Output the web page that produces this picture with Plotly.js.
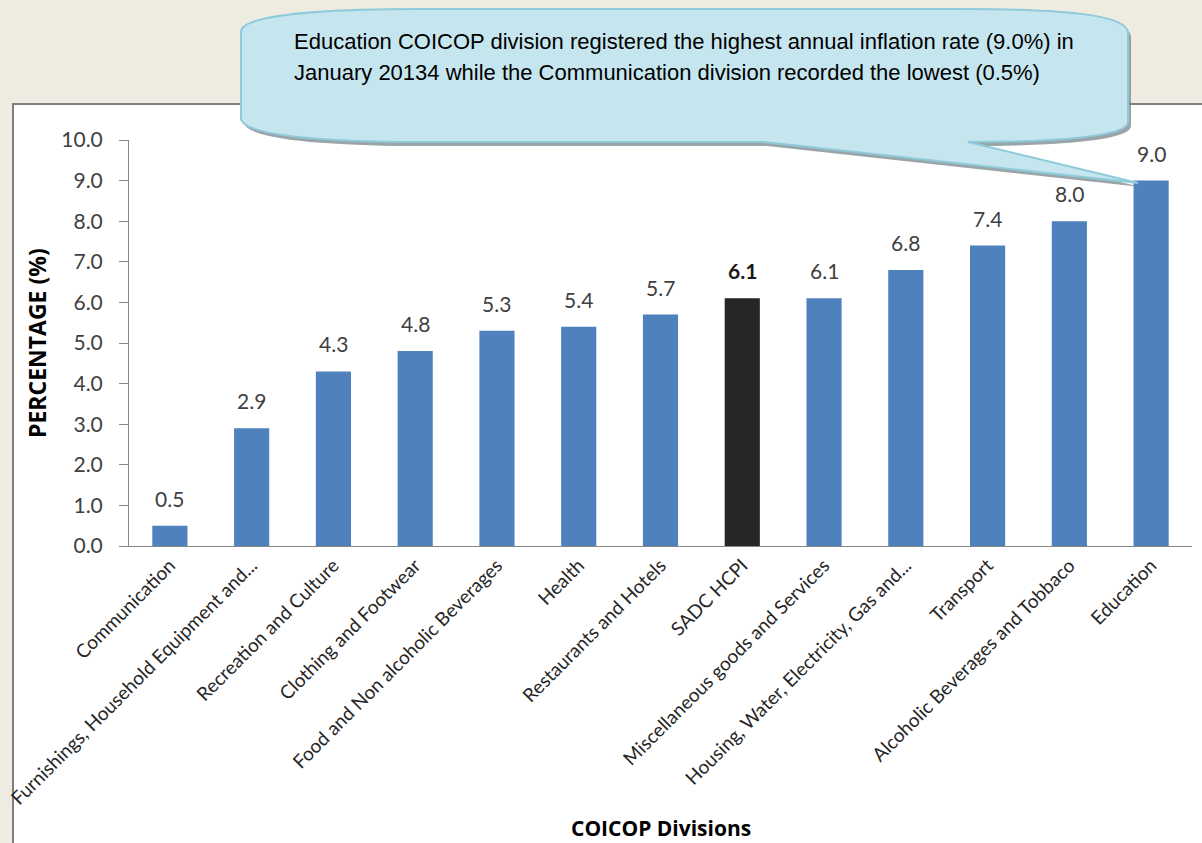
<!DOCTYPE html>
<html>
<head>
<meta charset="utf-8">
<script src="https://cdn.plot.ly/plotly-3.0.1.min.js"></script>
<style>
  html, body { margin: 0; padding: 0; background: #eeece1; }
  #chart { width: 1202px; height: 843px; }
</style>
</head>
<body>
<div id="chart"></div>
<script>
// ---- data ----
const categories = [
  "Communication",
  "Furnishings, Household Equipment and...",
  "Recreation and Culture",
  "Clothing and Footwear",
  "Food and Non alcoholic Beverages",
  "Health",
  "Restaurants and Hotels",
  "SADC HCPI",
  "Miscellaneous goods and Services",
  "Housing, Water, Electricity, Gas and...",
  "Transport",
  "Alcoholic Beverages and Tobbaco",
  "Education"
];
const values = [0.5, 2.9, 4.3, 4.8, 5.3, 5.4, 5.7, 6.1, 6.1, 6.8, 7.4, 8.0, 9.0];
const highlightCategory = "SADC HCPI";
const yTickValues = [0, 1, 2, 3, 4, 5, 6, 7, 8, 9, 10];
const yTickLabels = ["0.0", "1.0", "2.0", "3.0", "4.0", "5.0", "6.0", "7.0", "8.0", "9.0", "10.0"];
const calloutLines = [
  "Education COICOP division registered the highest annual inflation rate (9.0%) in",
  "January 20134 while the Communication division recorded the lowest (0.5%)"
];
const xTitle = "COICOP Divisions";
const yTitle = "PERCENTAGE (%)";

// ---- layout geometry (pixels) ----
const FIG_W = 1202, FIG_H = 843;
const L = 129, R = 1192, T = 140, B = 546;
const PW = R - L, PH = B - T;
const px = v => (v - L) / PW;
const py = v => (B - v) / PH;
const pt = (x, y) => px(x).toFixed(5) + "," + py(y).toFixed(5);

const FONT = "Lato, 'Open Sans', sans-serif";
const TITLE_FONT = "'Open Sans', Lato, sans-serif";
const CALLOUT_FONT = "'Liberation Sans', Arial, sans-serif";
const BLUE = "#4f81bd";
const DARK = "#262626";

function calloutPath(dx, dy) {
  const P = (x, y) => pt(x + dx, y + dy);
  return "M" + P(241, 32) +
    " C" + P(241, 14) + " " + P(330, 9) + " " + P(420, 9) +
    " L" + P(960, 9) +
    " C" + P(1060, 9) + " " + P(1128, 14) + " " + P(1128, 33) +
    " L" + P(1128, 122) +
    " C" + P(1128, 136) + " " + P(1060, 142) + " " + P(968, 142) +
    " L" + P(1138, 183) +
    " L" + P(764, 142) +
    " L" + P(420, 142) +
    " C" + P(330, 142) + " " + P(241, 136) + " " + P(241, 118) +
    " Z";
}

const barColors = categories.map(c => c === highlightCategory ? DARK : BLUE);

const trace = {
  type: "bar",
  x: categories,
  y: values,
  width: 0.43,
  marker: { color: barColors, line: { width: 0 } },
  hoverinfo: "x+y",
  showlegend: false
};

const valueAnnotations = categories.map((c, i) => ({
  x: c,
  y: values[i],
  xref: "x",
  yref: "y",
  text: c === highlightCategory ? "<b>" + values[i].toFixed(1) + "</b>" : values[i].toFixed(1),
  showarrow: false,
  yanchor: "bottom",
  yshift: 13,
  font: { family: FONT, size: 21, color: c === highlightCategory ? "#1a1a1a" : "#404040" }
}));

const annotations = valueAnnotations.concat([
  {
    xref: "paper", yref: "paper",
    x: px(292), y: py(42),
    xanchor: "left", yanchor: "middle",
    text: calloutLines[0], showarrow: false, align: "left",
    font: { family: CALLOUT_FONT, size: 22, color: "#000000" }
  },
  {
    xref: "paper", yref: "paper",
    x: px(292), y: py(72),
    xanchor: "left", yanchor: "middle",
    text: calloutLines[1], showarrow: false, align: "left",
    font: { family: CALLOUT_FONT, size: 22, color: "#000000" }
  },
  {
    xref: "paper", yref: "paper",
    x: px(661), y: py(828),
    xanchor: "center", yanchor: "middle",
    text: "<b>" + xTitle + "</b>", showarrow: false,
    font: { family: TITLE_FONT, size: 21, color: "#000000" }
  },
  {
    xref: "paper", yref: "paper",
    x: px(37), y: py(343),
    xanchor: "center", yanchor: "middle",
    textangle: -90,
    text: "<b>" + yTitle + "</b>", showarrow: false,
    font: { family: TITLE_FONT, size: 23, color: "#000000" }
  }
]);

const shapes = [
  // white chart panel
  {
    type: "rect", xref: "paper", yref: "paper", layer: "below",
    x0: px(13), x1: px(1215), y0: py(860), y1: py(104),
    fillcolor: "#ffffff", line: { color: "#7f7f7f", width: 2 }
  },
  // callout shadow
  {
    type: "path", xref: "paper", yref: "paper", layer: "above",
    path: calloutPath(3, 4),
    fillcolor: "rgba(120,135,140,0.75)", line: { width: 0 }
  },
  // callout body
  {
    type: "path", xref: "paper", yref: "paper", layer: "above",
    path: calloutPath(0, 0),
    fillcolor: "#c6e6ef", line: { color: "#8fcadb", width: 2 }
  }
];

const layout = {
  width: FIG_W,
  height: FIG_H,
  margin: { l: L, r: FIG_W - R, t: T, b: FIG_H - B, pad: 0 },
  paper_bgcolor: "#eeece1",
  plot_bgcolor: "rgba(0,0,0,0)",
  showlegend: false,
  bargap: 0.57,
  xaxis: {
    type: "category",
    range: [-0.5, categories.length - 0.5],
    showline: true,
    linecolor: "#868686",
    linewidth: 1,
    ticks: "",
    showgrid: false,
    zeroline: false,
    tickangle: -45,
    tickfont: { family: FONT, size: 19, color: "#262626" },
    automargin: false,
    fixedrange: true
  },
  yaxis: {
    range: [0, 10],
    tickvals: yTickValues,
    ticktext: yTickLabels,
    showline: true,
    linecolor: "#868686",
    linewidth: 1,
    ticks: "outside",
    ticklen: 9,
    tickwidth: 1,
    tickcolor: "#868686",
    ticklabelstandoff: 12,
    showgrid: false,
    zeroline: false,
    tickfont: { family: FONT, size: 21, color: "#404040" },
    automargin: false,
    fixedrange: true
  },
  shapes: shapes,
  annotations: annotations
};

Plotly.newPlot("chart", [trace], layout, { displayModeBar: false, staticPlot: true });
</script>
</body>
</html>
